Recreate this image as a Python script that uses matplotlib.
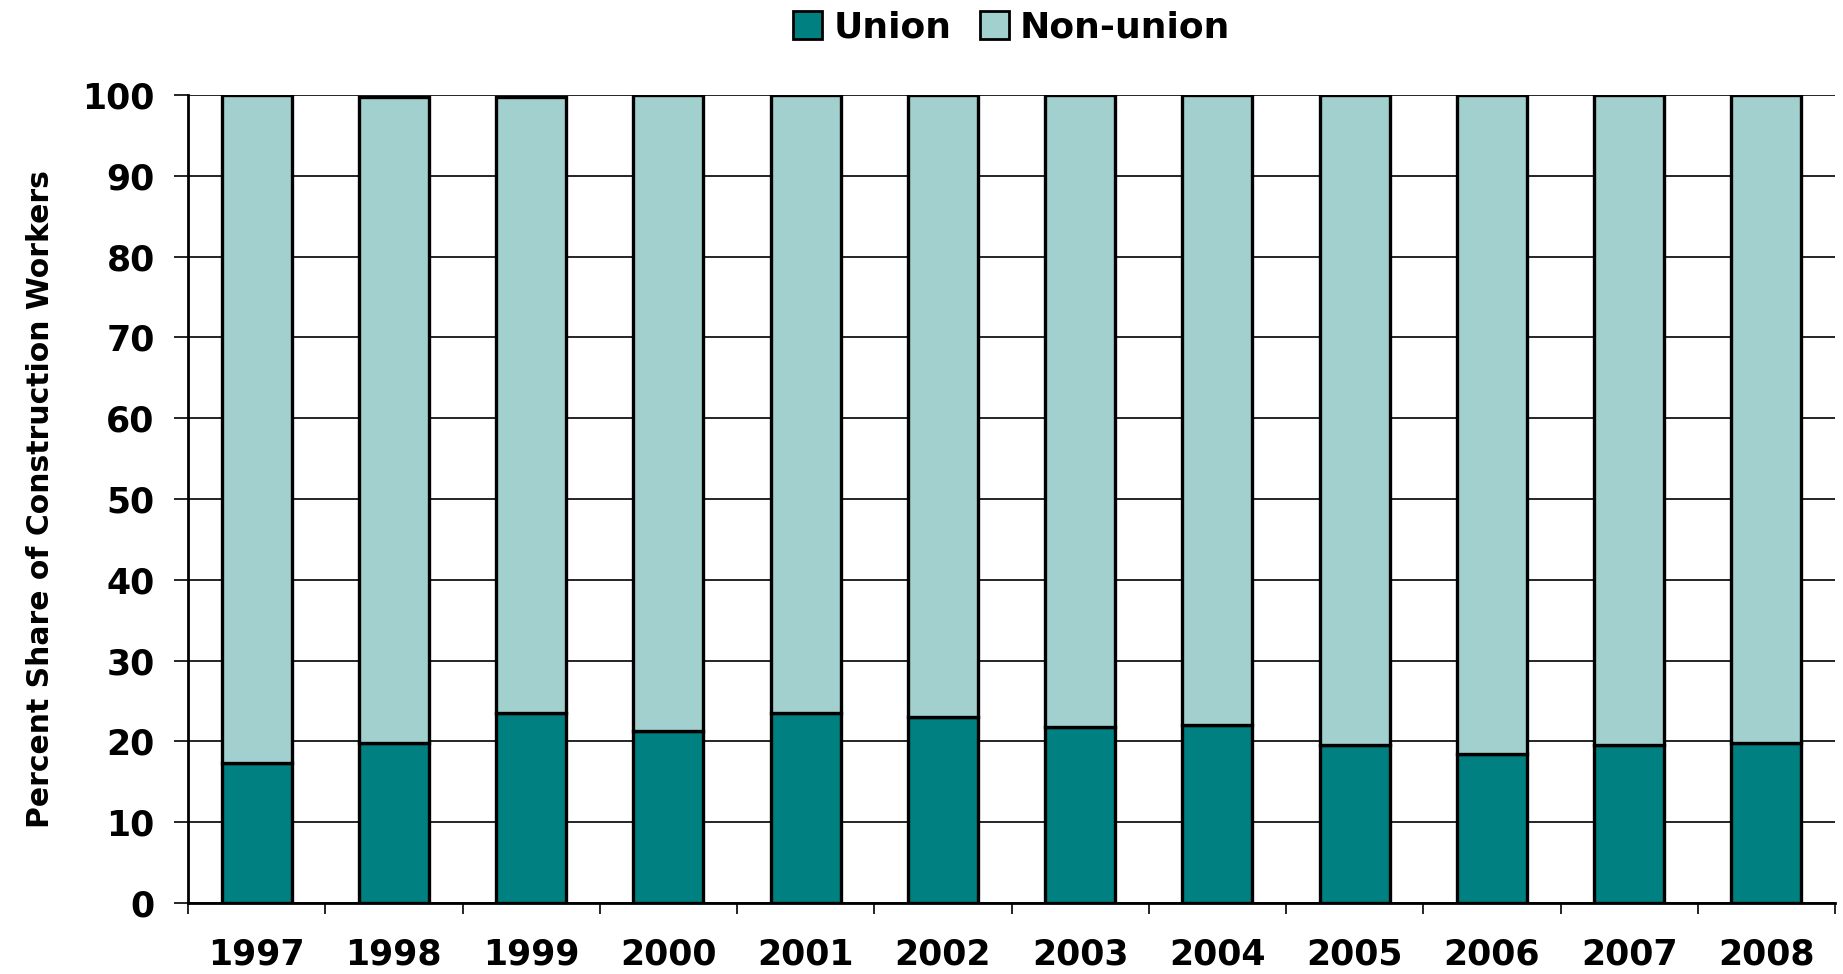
import matplotlib
matplotlib.use("Agg")
import matplotlib.pyplot as plt
import numpy as np
from matplotlib.patches import Patch

years = ["1997", "1998", "1999", "2000", "2001", "2002", "2003", "2004", "2005", "2006", "2007", "2008"]
union = [17.3, 19.8, 23.5, 21.3, 23.5, 23.0, 21.8, 22.0, 19.5, 18.5, 19.5, 19.8]
non_union = [82.7, 79.9, 76.2, 78.7, 76.5, 77.0, 78.2, 78.0, 80.5, 81.5, 80.5, 80.2]
yticks = [0, 10, 20, 30, 40, 50, 60, 70, 80, 90, 100]

c_union = "#008080"
c_non = "#A2D0CF"

fig = plt.figure(figsize=(18.43, 9.74), dpi=100)
ax = fig.add_axes([0.102, 0.0729, 0.8937, 0.8296])

x = np.arange(len(years))
ax.bar(x, union, width=0.51, color=c_union, edgecolor="black", linewidth=2.4, zorder=3)
ax.bar(x, non_union, width=0.51, bottom=union, color=c_non, edgecolor="black", linewidth=2.4, zorder=3)

ax.set_xlim(-0.5, len(years) - 0.5)
ax.set_ylim(0, 100)
ax.set_yticks(yticks)
ax.set_yticklabels([str(v) for v in yticks], fontsize=25, fontweight="bold", family="DejaVu Sans")
ax.set_xticks(x)
ax.set_xticklabels(years, fontsize=25, fontweight="bold", family="DejaVu Sans")
ax.set_xticks(np.arange(-0.5, len(years), 1.0), minor=True)
ax.tick_params(axis="x", which="major", length=0, pad=25)
ax.tick_params(axis="x", which="minor", length=8, width=1.2, direction="out", color="black")
ax.tick_params(axis="y", which="major", length=10, width=1.2, direction="out", pad=14)

ax.grid(axis="y", color="black", linewidth=1.2, zorder=0)
ax.set_axisbelow(True)
for s in ["top", "right"]:
    ax.spines[s].set_visible(False)
ax.spines["left"].set_linewidth(2)
ax.spines["bottom"].set_linewidth(2)
ax.spines["bottom"].set_zorder(4)

ax.set_ylabel("Percent Share of Construction Workers", fontsize=21.5, fontweight="bold",
              family="DejaVu Sans")
ax.yaxis.set_label_coords(-0.081, 0.5)

handles = [Patch(facecolor=c_union, edgecolor="black", linewidth=2),
           Patch(facecolor=c_non, edgecolor="black", linewidth=2)]
fig.legend(handles, ["Union", "Non-union"], loc="center", bbox_to_anchor=(0.549, 0.972),
           ncol=2, frameon=False, prop={"size": 26, "weight": "bold", "family": "DejaVu Sans"},
           handlelength=0.8, handleheight=0.8, handletextpad=0.3, columnspacing=0.8)

fig.savefig("out.png", dpi=100)
